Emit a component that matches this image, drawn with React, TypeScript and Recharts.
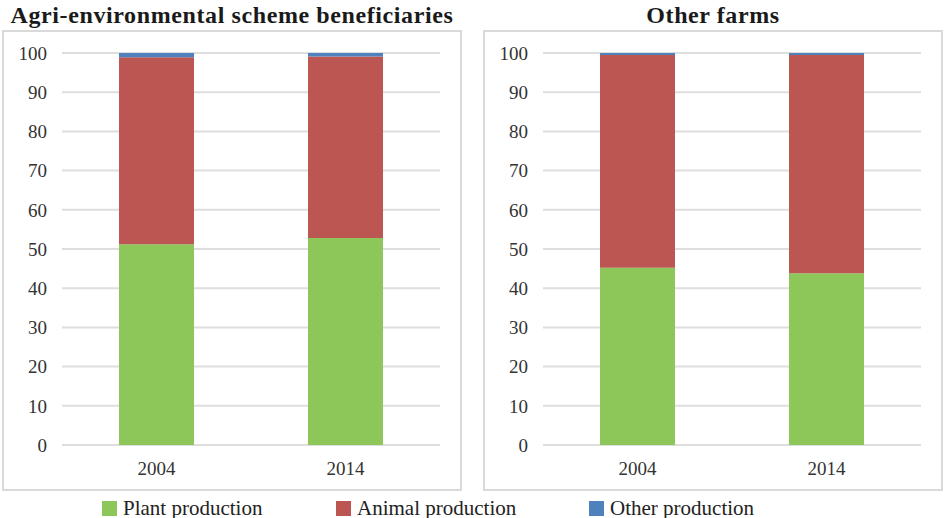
import React from 'react';
import { BarChart, Bar, XAxis, YAxis, CartesianGrid } from 'recharts';

// Share of farm output by production type (%)
const years = ['2004', '2014'];

const aesPlant = [51.2, 52.8];
const aesAnimal = [47.7, 46.3];
const aesOther = [1.1, 0.9];

const otherPlant = [45.2, 43.8];
const otherAnimal = [54.3, 55.7];
const otherOther = [0.5, 0.5];

const yTicks = [0, 10, 20, 30, 40, 50, 60, 70, 80, 90, 100];

const seriesNames = ['Plant production', 'Animal production', 'Other production'];
const seriesColors = ['#8dc75a', '#bc5652', '#4f81bd'];

const FONT = '"Liberation Serif", "Times New Roman", serif';

const buildRows = (plant: number[], animal: number[], other: number[]) =>
  years.map((year, i) => ({ year, plant: plant[i], animal: animal[i], other: other[i] }));

const aesRows = buildRows(aesPlant, aesAnimal, aesOther);
const otherRows = buildRows(otherPlant, otherAnimal, otherOther);

interface PanelProps {
  title: string;
  data: { year: string; plant: number; animal: number; other: number }[];
  left: number;
}

const Panel: React.FC<PanelProps> = ({ title, data, left }) => (
  <>
    <div
      style={{
        position: 'absolute',
        left,
        top: 0,
        width: 460,
        textAlign: 'center',
        fontFamily: FONT,
        fontWeight: 'bold',
        fontSize: 24,
        letterSpacing: 0.6,
        lineHeight: '30px',
        color: '#1a1a1a',
        whiteSpace: 'nowrap',
      }}
    >
      {title}
    </div>
    <div
      style={{
        position: 'absolute',
        left,
        top: 30,
        width: 456,
        height: 457,
        border: '2px solid #d9d9d9',
      }}
    />
    <div style={{ position: 'absolute', left, top: 0 }}>
      <BarChart
        width={460}
        height={491}
        data={data}
        margin={{ top: 53, right: 22, bottom: 0, left: 0 }}
        barSize={75}
      >
        <CartesianGrid vertical={false} stroke="#dedede" strokeWidth={2} />
        <XAxis
          dataKey="year"
          height={46}
          axisLine={false}
          tickLine={false}
          tickSize={0}
          tickMargin={17}
          tick={{ fill: '#333', fontSize: 19, fontFamily: FONT }}
        />
        <YAxis
          width={60}
          domain={[0, 100]}
          ticks={yTicks}
          axisLine={false}
          tickLine={false}
          tickSize={0}
          tickMargin={15}
          tick={{ fill: '#333', fontSize: 19, fontFamily: FONT }}
        />
        <Bar dataKey="plant" stackId="a" fill={seriesColors[0]} isAnimationActive={false} />
        <Bar dataKey="animal" stackId="a" fill={seriesColors[1]} isAnimationActive={false} />
        <Bar dataKey="other" stackId="a" fill={seriesColors[2]} isAnimationActive={false} />
      </BarChart>
    </div>
  </>
);

const legendX = [102, 336, 589];

const App: React.FC = () => (
  <div
    style={{
      position: 'absolute',
      left: 0,
      top: 0,
      width: 944,
      height: 518,
      background: '#fff',
      overflow: 'hidden',
    }}
  >
    <Panel title="Agri-environmental scheme beneficiaries" data={aesRows} left={2} />
    <Panel title="Other farms" data={otherRows} left={483} />
    {seriesNames.map((name, i) => (
      <div
        key={name}
        style={{
          position: 'absolute',
          left: legendX[i],
          top: 494,
          height: 28,
          display: 'flex',
          alignItems: 'center',
          fontFamily: FONT,
          fontSize: 21,
          color: '#222',
          whiteSpace: 'nowrap',
        }}
      >
        <span
          style={{
            display: 'inline-block',
            width: 15,
            height: 15,
            marginRight: 6,
            background: seriesColors[i],
          }}
        />
        {name}
      </div>
    ))}
  </div>
);

export default App;
